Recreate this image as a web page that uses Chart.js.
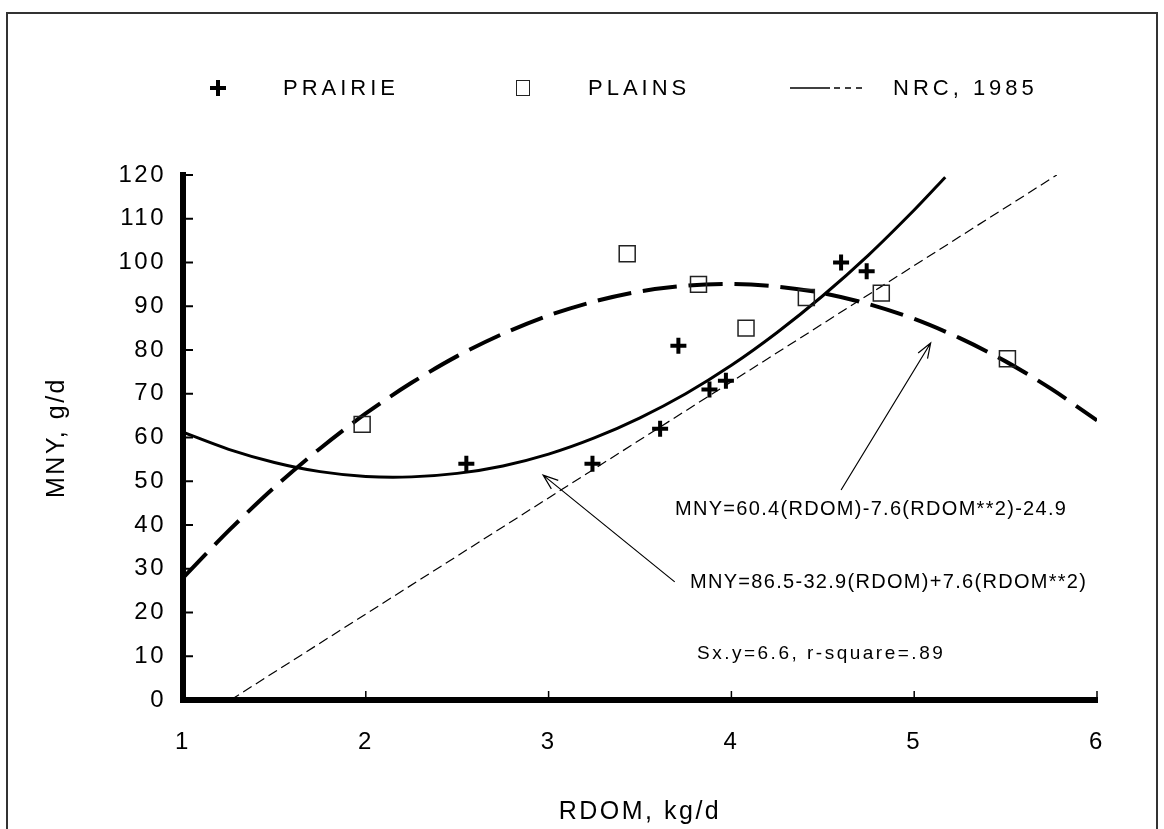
<!DOCTYPE html>
<html>
<head>
<meta charset="utf-8">
<title>MNY vs RDOM</title>
<script src="https://cdn.jsdelivr.net/npm/chart.js@4.4.1/dist/chart.umd.min.js"></script>
<style>
  body { margin: 0; background: #fff; font-family: "Liberation Sans", Arial, sans-serif; color: #000; }
  #wrap { position: relative; width: 1164px; height: 829px; overflow: hidden; }
  #frame { position: absolute; left: 6px; top: 12px; width: 1152px; height: 860px; border: 2px solid #333; box-sizing: border-box; }
  canvas { position: absolute; left: 0; top: 0; }
  .txt { position: absolute; white-space: nowrap; line-height: 1; }
  .leg { font-size: 22px; letter-spacing: 4px; top: 77px; }
  .eq { font-size: 20px; letter-spacing: 1.3px; }
  #legSquare { position: absolute; left: 516px; top: 80px; width: 14px; height: 16px; border: 1.5px solid #222; box-sizing: border-box; }
</style>
</head>
<body>
<div id="wrap">
  <div id="frame"></div>
  <canvas id="mnyChart" width="1164" height="829"></canvas>

  <!-- legend -->
  <svg class="txt" style="left:209px; top:79px" width="18" height="18">
    <line x1="1" y1="9" x2="17" y2="9" stroke="#000" stroke-width="4"/>
    <line x1="9" y1="1" x2="9" y2="17" stroke="#000" stroke-width="4"/>
  </svg>
  <div class="txt leg" style="left:283px">PRAIRIE</div>
  <div id="legSquare"></div>
  <div class="txt leg" style="left:588px">PLAINS</div>
  <svg class="txt" style="left:790px; top:82px" width="78" height="12">
    <line x1="0" y1="6" x2="40" y2="6" stroke="#000" stroke-width="1.5"/>
    <line x1="44" y1="6" x2="76" y2="6" stroke="#000" stroke-width="1.5" stroke-dasharray="6 5"/>
  </svg>
  <div class="txt leg" style="left:893px">NRC, 1985</div>

  <!-- regression notes -->
  <div class="txt eq" style="left:675px; top:498px">MNY=60.4(RDOM)-7.6(RDOM**2)-24.9</div>
  <div class="txt eq" style="left:690px; top:571px">MNY=86.5-32.9(RDOM)+7.6(RDOM**2)</div>
  <div class="txt eq" style="left:697px; top:643px; font-size:19px; letter-spacing:2.5px">Sx.y=6.6, r-square=.89</div>
</div>

<script>
// observed points
const prairieX = [2.55, 3.24, 3.61, 3.71, 3.88, 3.97, 4.60, 4.74];
const prairieY = [54, 54, 62, 81, 71, 73, 100, 98];
const plainsX = [1.98, 3.43, 3.82, 4.08, 4.41, 4.82, 5.51];
const plainsY = [63, 102, 95, 85, 92, 93, 78];

// fitted curves
const prairieFitX = [1.0, 1.25, 1.5, 1.75, 2.0, 2.25, 2.5, 2.75, 3.0, 3.25, 3.5, 3.75, 4.0, 4.25, 4.5, 4.75, 5.0, 5.17];
const prairieFitY = [61.2, 57.3, 54.3, 52.2, 51.1, 51.0, 51.8, 53.5, 56.2, 59.9, 64.5, 70.0, 76.5, 84.0, 92.4, 101.7, 112.0, 119.5];
const plainsFitX = [1.0, 1.25, 1.5, 1.75, 2.0, 2.25, 2.5, 2.75, 3.0, 3.25, 3.5, 3.75, 4.0, 4.25, 4.5, 4.75, 5.0, 5.25, 5.5, 5.75, 6.0];
const plainsFitY = [27.9, 38.7, 48.6, 57.5, 65.5, 72.5, 78.6, 83.7, 87.9, 91.1, 93.4, 94.7, 95.1, 94.5, 93.0, 90.5, 87.1, 82.7, 77.4, 71.1, 63.9];
const nrcX = [1.26, 5.78];
const nrcY = [0, 120];

// axes
const xTicks = [1, 2, 3, 4, 5, 6];
const yTicks = [0, 10, 20, 30, 40, 50, 60, 70, 80, 90, 100, 110, 120];

// arrows from the equations to their curves (data units)
const arrows = [
    { from: [4.60, 48.0], to: [5.09, 81.6] },
    { from: [3.69, 27.0], to: [2.97, 51.4] }
];

function toPoints(xs, ys) {
    return xs.map((x, i) => ({ x: x, y: ys[i] }));
}

// inner tick marks, arrows, wide letter spacing
const marksPlugin = {
    id: 'marks',
    beforeLayout(chart) { chart.ctx.letterSpacing = '2.5px'; },
    beforeDraw(chart) { chart.ctx.letterSpacing = '2.5px'; },
    afterDraw(chart) {
        const ctx = chart.ctx;
        const x = chart.scales.x, y = chart.scales.y;
        ctx.save();
        ctx.strokeStyle = '#000';

        ctx.lineWidth = 2;
        yTicks.forEach(v => {
            const py = y.getPixelForValue(v);
            ctx.beginPath();
            ctx.moveTo(x.left, py);
            ctx.lineTo(x.left + 10, py);
            ctx.stroke();
        });
        ctx.lineWidth = 1.5;
        xTicks.slice(1).forEach(v => {
            const px = x.getPixelForValue(v);
            ctx.beginPath();
            ctx.moveTo(px, y.bottom);
            ctx.lineTo(px, y.bottom - 9);
            ctx.stroke();
        });

        ctx.lineWidth = 1.2;
        arrows.forEach(a => {
            const x1 = x.getPixelForValue(a.from[0]), y1 = y.getPixelForValue(a.from[1]);
            const x2 = x.getPixelForValue(a.to[0]), y2 = y.getPixelForValue(a.to[1]);
            const ang = Math.atan2(y2 - y1, x2 - x1);
            ctx.beginPath();
            ctx.moveTo(x1, y1);
            ctx.lineTo(x2, y2);
            ctx.moveTo(x2 - 16 * Math.cos(ang - 0.35), y2 - 16 * Math.sin(ang - 0.35));
            ctx.lineTo(x2, y2);
            ctx.lineTo(x2 - 16 * Math.cos(ang + 0.35), y2 - 16 * Math.sin(ang + 0.35));
            ctx.stroke();
        });
        ctx.restore();
    }
};

const tickFont = { family: '"Liberation Sans", Arial, sans-serif', size: 24 };
const titleFont = { family: '"Liberation Sans", Arial, sans-serif', size: 25 };

new Chart(document.getElementById('mnyChart').getContext('2d'), {
    type: 'scatter',
    data: {
        datasets: [
            {
                label: 'PRAIRIE',
                data: toPoints(prairieX, prairieY),
                pointStyle: 'cross',
                radius: 8,
                borderWidth: 4,
                borderColor: '#000',
                backgroundColor: '#000'
            },
            {
                label: 'PLAINS',
                data: toPoints(plainsX, plainsY),
                pointStyle: 'rect',
                radius: 11.3,
                borderWidth: 1.5,
                borderColor: '#222',
                backgroundColor: 'rgba(0,0,0,0)'
            },
            {
                label: 'PRAIRIE fit',
                data: toPoints(prairieFitX, prairieFitY),
                showLine: true,
                pointRadius: 0,
                borderColor: '#000',
                borderWidth: 3,
                tension: 0.3
            },
            {
                label: 'PLAINS fit',
                data: toPoints(plainsFitX, plainsFitY),
                showLine: true,
                pointRadius: 0,
                borderColor: '#000',
                borderWidth: 4,
                borderDash: [34, 12],
                tension: 0.3
            },
            {
                label: 'NRC, 1985',
                data: toPoints(nrcX, nrcY),
                showLine: true,
                pointRadius: 0,
                borderColor: '#000',
                borderWidth: 1.2,
                borderDash: [10, 5]
            }
        ]
    },
    options: {
        responsive: false,
        animation: false,
        events: [],
        layout: { padding: { left: 0, right: 67, top: 175, bottom: 0 } },
        plugins: { legend: { display: false }, tooltip: { enabled: false } },
        scales: {
            x: {
                type: 'linear',
                min: 1,
                max: 6,
                afterBuildTicks: s => { s.ticks = xTicks.map(v => ({ value: v })); },
                afterFit: s => { s.height = 129; },
                grid: { display: false, drawTicks: false },
                border: { display: true, width: 6, color: '#000' },
                ticks: { color: '#000', font: tickFont, padding: 28, maxRotation: 0 },
                title: { display: true, text: 'RDOM, kg/d', color: '#000', font: titleFont, padding: { top: 0, bottom: 2 } }
            },
            y: {
                min: 0,
                max: 120,
                afterBuildTicks: s => { s.ticks = yTicks.map(v => ({ value: v })); },
                afterFit: s => { s.width = 183; },
                grid: { display: false, drawTicks: false },
                border: { display: true, width: 6, color: '#000' },
                ticks: { color: '#000', font: tickFont, padding: 17 },
                title: { display: true, text: 'MNY, g/d', color: '#000', font: titleFont, padding: { top: 42, bottom: 0 } }
            }
        }
    },
    plugins: [marksPlugin]
});
</script>
</body>
</html>
